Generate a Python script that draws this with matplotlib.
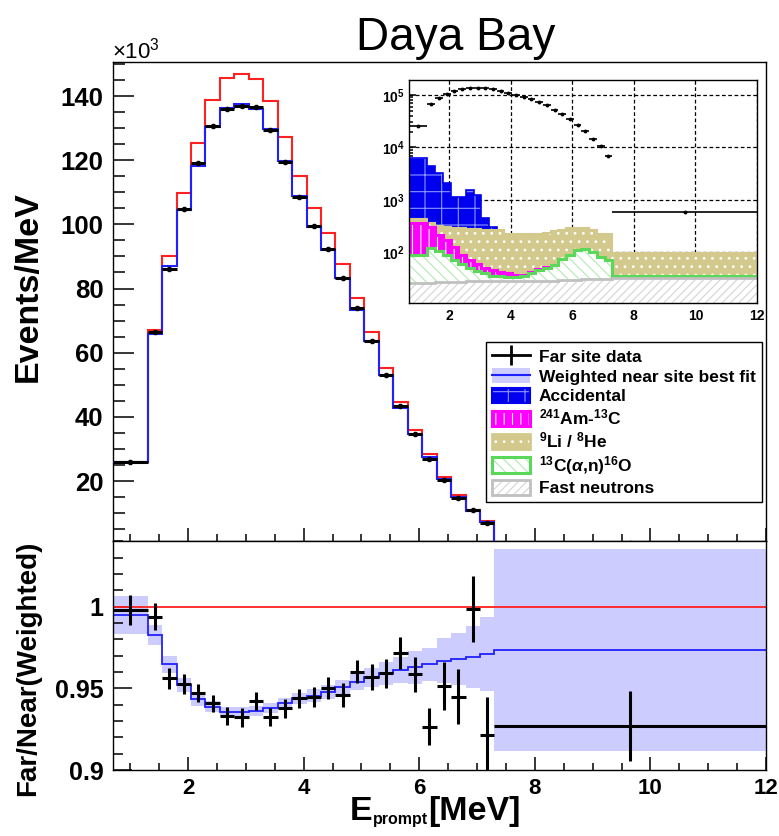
import numpy as np
import matplotlib
matplotlib.use('Agg')
import matplotlib.pyplot as plt
from matplotlib.patches import Patch
from matplotlib.lines import Line2D
from matplotlib.ticker import MultipleLocator, FixedLocator, LogLocator, NullFormatter, FuncFormatter

plt.rcParams['font.family'] = ['Liberation Sans', 'DejaVu Sans']
plt.rcParams['font.weight'] = 'bold'
plt.rcParams['mathtext.fontset'] = 'custom'
plt.rcParams['mathtext.rm'] = 'Liberation Sans'
plt.rcParams['mathtext.it'] = 'Liberation Sans:italic'
plt.rcParams['mathtext.bf'] = 'Liberation Sans:bold'
plt.rcParams['hatch.linewidth'] = 0.8

# ---------------- data ----------------
bin_edges = [0.7, 1.3, 1.55, 1.8, 2.05, 2.3, 2.55, 2.8, 3.05, 3.3, 3.55, 3.8, 4.05,
             4.3, 4.55, 4.8, 5.05, 5.3, 5.55, 5.8, 6.05, 6.3, 6.55, 6.8, 7.05, 7.3, 12.0]

# Events/MeV in units of 10^3
far_data = [26.0, 66.5, 86.2, 104.9, 119.1, 130.7, 135.9, 136.8, 136.7, 129.4, 119.3, 108.5,
            99.4, 92.2, 83.2, 74.0, 63.75, 52.9, 43.5, 34.6, 26.8, 20.4, 14.8, 10.9, 6.9, 0.58]
no_osc_pred = [26.05, 67.0, 90.1, 109.9, 125.3, 138.75, 145.6, 147.0, 145.3, 138.4, 127.1, 115.1,
               105.0, 97.2, 87.7, 76.9, 66.5, 55.2, 44.5, 35.9, 28.4, 21.25, 15.6, 11.0, 7.5, 0.63]
near_fit = [25.9, 65.9, 86.9, 104.6, 118.2, 130.2, 136.2, 137.5, 136.0, 129.8, 119.6, 108.7,
            99.3, 92.1, 83.4, 73.4, 63.6, 53.0, 42.8, 34.6, 27.4, 20.5, 15.1, 10.7, 7.3, 0.61]

# ratio panel
ratio_data = [0.9979, 0.9938, 0.956, 0.9526, 0.947, 0.9408, 0.933, 0.9322, 0.9424, 0.9326,
              0.9377, 0.9439, 0.9448, 0.950, 0.9459, 0.9601, 0.9567, 0.9591, 0.9714, 0.9587,
              0.9265, 0.9514, 0.9448, 0.9985, 0.9214, 0.9271]
ratio_err = [0.0092, 0.0082, 0.0067, 0.0059, 0.0057, 0.0051, 0.0056, 0.0056, 0.0055, 0.0055,
             0.0056, 0.0058, 0.0061, 0.0066, 0.0071, 0.0071, 0.008, 0.0087, 0.0098, 0.0107,
             0.0112, 0.0146, 0.0167, 0.0204, 0.0234, 0.0214]
ratio_fit = [0.9948, 0.9826, 0.9646, 0.952, 0.9432, 0.9387, 0.9357, 0.9353, 0.9363, 0.9377,
             0.9408, 0.9438, 0.9453, 0.9479, 0.9506, 0.954, 0.9567, 0.9591, 0.9612, 0.9628,
             0.9648, 0.9669, 0.9681, 0.9693, 0.971, 0.9734]
ratio_fit_unc = [0.0116, 0.006, 0.005, 0.0045, 0.004, 0.0035, 0.003, 0.003, 0.003, 0.003,
                 0.003, 0.0035, 0.004, 0.0042, 0.0046, 0.005, 0.0058, 0.0071, 0.0081, 0.0099,
                 0.0101, 0.0137, 0.016, 0.019, 0.0225, 0.062]

# inset backgrounds (Events/MeV)
bkg_accidental = [6240, 4450, 3240, 2090, 1160, 1160, 1550, 1260, 450, 300, 270, 150, 90, 60,
                  40, 30, 20, 15, 12, 10, 8, 6, 5, 4, 3, 1]
bkg_amc = [372, 302, 219, 174, 129, 91, 72, 59, 50, 46, 42, 40, 38, 38, 43, 48, 53, 30, 20, 15,
           12, 10, 8, 6, 5, 2]
bkg_lihe = [431, 363, 324, 309, 295, 288, 282, 275, 269, 269, 263, 229, 226, 226, 226, 229, 234,
            251, 263, 288, 288, 288, 269, 226, 226, 98]
bkg_c13 = [90, 120, 105, 90, 72, 59, 50, 44, 40, 36, 35, 34, 34, 36, 41, 46, 50, 58, 74, 90, 110,
           115, 100, 81, 71, 36]
bkg_fastn = [26, 26, 27, 27, 27, 27, 28, 28, 28, 28, 28, 28, 28, 28, 29, 29, 29, 29, 30, 30, 30,
             31, 31, 31, 31, 32]

edges = np.array(bin_edges)
centers = 0.5 * (edges[1:] + edges[:-1])
halfw = 0.5 * (edges[1:] - edges[:-1])

W, H = 779, 836
fig = plt.figure(figsize=(W / 100, H / 100), dpi=100)

def fx(px):
    return px / W

def fy(py):
    return 1 - py / H

L, R = 113, 766
ax = fig.add_axes([fx(L), fy(541), fx(R) - fx(L), fy(62) - fy(541)])
axr = fig.add_axes([fx(L), fy(770), fx(R) - fx(L), fy(541) - fy(770)])
axi = fig.add_axes([fx(409), fy(303), fx(757) - fx(409), fy(80) - fy(303)])

for a in (ax, axr, axi):
    for s in a.spines.values():
        s.set_linewidth(1.0)
    a.tick_params(which='both', direction='in', top=False, right=False, width=1.1)

# ---------------- main panel ----------------
ax.stairs(no_osc_pred, edges, baseline=None, color='#ff2020', lw=1.5, zorder=2)
ax.stairs(near_fit, edges, baseline=None, color='#2020ff', lw=1.5, zorder=3)
ax.errorbar(centers, far_data, xerr=halfw, fmt='o', ms=3, color='black', elinewidth=2.2,
            capsize=0, zorder=4)
ax.set_xlim(0.7, 12)
ax.set_ylim(1.3, 150.6)
ax.xaxis.set_major_locator(MultipleLocator(2))
ax.xaxis.set_minor_locator(MultipleLocator(0.5))
ax.yaxis.set_major_locator(FixedLocator([20, 40, 60, 80, 100, 120, 140]))
ax.yaxis.set_minor_locator(MultipleLocator(5))
ax.yaxis.set_major_formatter(FuncFormatter(lambda v, p: f'{v:.0f}'))
ax.tick_params(axis='x', labelbottom=False)
ax.tick_params(axis='y', which='major', length=15, labelsize=18.5, pad=7)
ax.tick_params(axis='y', which='minor', length=8.5)
ax.tick_params(axis='x', which='major', length=9.5)
ax.tick_params(axis='x', which='minor', length=5)

# ---------------- ratio panel ----------------
rf = np.array(ratio_fit)
ru = np.array(ratio_fit_unc)
axr.stairs(rf + ru, edges, baseline=rf - ru, fill=True, color='#ccccff', lw=0, zorder=1)
axr.stairs(ratio_fit, edges, baseline=None, color='#2020ff', lw=1.3, zorder=2)
axr.axhline(1.0, color='#ff2020', lw=1.3, zorder=2)
axr.errorbar(centers, ratio_data, xerr=halfw, yerr=ratio_err, fmt='none', ecolor='black',
             elinewidth=2.2, capsize=0, zorder=3)
axr.set_xlim(0.7, 12)
axr.set_ylim(0.9, 1.0401)
axr.xaxis.set_major_locator(MultipleLocator(2))
axr.xaxis.set_minor_locator(MultipleLocator(0.5))
axr.yaxis.set_major_locator(FixedLocator([0.9, 0.95, 1.0]))
axr.yaxis.set_minor_locator(MultipleLocator(0.01))
axr.yaxis.set_major_formatter(FuncFormatter(lambda v, p: f'{v:g}'))
axr.tick_params(axis='y', which='major', length=14, labelsize=18, pad=7)
axr.tick_params(axis='y', which='minor', length=7)
axr.tick_params(axis='x', which='major', length=9.5, labelsize=16, pad=6)
axr.tick_params(axis='x', which='minor', length=5)

# ---------------- inset ----------------
axi.set_yscale('log')
axi.set_axisbelow(True)
axi.grid(True, which='major', color='black', ls=(0, (3, 2)), lw=0.9)
blue_c = '#0000ee'
magenta_c = '#ff00ff'
tan_c = '#d4c98c'
green_c = '#5ad85a'
gray_c = '#c0c0c0'
base = 1.0
axi.stairs(bkg_accidental, edges, baseline=base, fill=True, facecolor=blue_c, edgecolor='#8c96ff',
           hatch='+', lw=0, zorder=1)
axi.stairs(bkg_accidental, edges, baseline=None, color=blue_c, lw=1.2, zorder=1.1)
axi.stairs(bkg_lihe, edges, baseline=base, fill=True, facecolor=tan_c, edgecolor='white',
           hatch='..', lw=0, zorder=1.2)
axi.stairs(bkg_lihe, edges, baseline=None, color=tan_c, lw=1.5, zorder=1.3)
axi.stairs(bkg_amc, edges, baseline=base, fill=True, facecolor=magenta_c, edgecolor='white',
           hatch='||', lw=0, zorder=1.4)
axi.stairs(bkg_amc, edges, baseline=None, color=magenta_c, lw=2.2, zorder=1.5)
axi.stairs(bkg_c13, edges, baseline=base, fill=True, facecolor='white', edgecolor='#b4e8b4',
           hatch='\\\\\\', lw=0, zorder=1.6)
axi.stairs(bkg_c13, edges, baseline=None, color=green_c, lw=2.2, zorder=1.7)
axi.stairs(bkg_fastn, edges, baseline=base, fill=True, facecolor='white', edgecolor='#d4d4d4',
           hatch='////', lw=0, zorder=1.8)
axi.stairs(bkg_fastn, edges, baseline=None, color=gray_c, lw=2.0, zorder=1.9)
axi.errorbar(centers, np.array(far_data) * 1000, xerr=halfw, fmt='o', ms=1.8, color='black',
             elinewidth=1.2, capsize=0, zorder=3)
axi.set_xlim(0.7, 12)
axi.set_ylim(10.9, 1.93e5)
axi.xaxis.set_major_locator(MultipleLocator(2))
axi.yaxis.set_major_locator(LogLocator(base=10, numticks=10))
axi.yaxis.set_minor_locator(LogLocator(base=10, subs=np.arange(2, 10), numticks=20))
axi.yaxis.set_minor_formatter(NullFormatter())
axi.tick_params(axis='both', which='major', labelsize=10, length=5)
axi.tick_params(axis='y', which='minor', length=3)
axi.tick_params(axis='x', pad=4)
axi.tick_params(axis='y', pad=3)

# ---------------- legend ----------------
handles = [
    Line2D([], [], color='black', lw=2, marker='|', markersize=15, mew=2),
    (Patch(facecolor='#ccccff', edgecolor='none'), Line2D([], [], color='#2020ff', lw=1.5)),
    (Patch(facecolor=blue_c, edgecolor='#8c96ff', hatch='+', lw=0),
     Patch(fill=False, edgecolor=blue_c, lw=1.5)),
    (Patch(facecolor=magenta_c, edgecolor='white', hatch='||', lw=0),
     Patch(fill=False, edgecolor=magenta_c, lw=2.2)),
    (Patch(facecolor=tan_c, edgecolor='white', hatch='..', lw=0),
     Patch(fill=False, edgecolor=tan_c, lw=2)),
    (Patch(facecolor='white', edgecolor='#b4e8b4', hatch='\\\\\\', lw=0),
     Patch(fill=False, edgecolor=green_c, lw=2.2)),
    (Patch(facecolor='white', edgecolor='#d4d4d4', hatch='////', lw=0),
     Patch(fill=False, edgecolor=gray_c, lw=2)),
]
labels = [
    'Far site data',
    'Weighted near site best fit',
    'Accidental',
    r'$\mathregular{^{241}}$Am-$\mathregular{^{13}}$C',
    r'$\mathregular{^{9}}$Li / $\mathregular{^{8}}$He',
    r'$\mathregular{^{13}}$C($\alpha$,n)$\mathregular{^{16}}$O',
    'Fast neutrons',
]
leg = ax.legend(handles, labels, loc='upper left', bbox_to_anchor=(fx(486), fy(342)),
                bbox_transform=fig.transFigure, borderaxespad=0, frameon=True, fancybox=False,
                edgecolor='black', framealpha=1, borderpad=0.35, labelspacing=0.18,
                handlelength=2.2, handleheight=1.0, handletextpad=0.5,
                prop={'weight': 'bold', 'size': 12.5})
leg.get_frame().set_linewidth(1.0)

# ---------------- texts ----------------
fig.text(fx(456), fy(50), 'Daya Bay', fontsize=33, fontweight='normal', ha='center',
         va='baseline')
fig.text(fx(112), fy(58), r'$\mathregular{\times10^{3}}$', fontsize=16, fontweight='normal',
         ha='left', va='baseline')
fig.text(fx(28), fy(287), 'Events/MeV', rotation=90, fontsize=24.5, fontweight='bold',
         ha='center', va='center')
fig.text(fx(28), fy(668), 'Far/Near(Weighted)', rotation=90, fontsize=20, fontweight='bold',
         ha='center', va='center')

# x label built from pieces (large E, small subscript, large [MeV])
renderer = fig.canvas.get_renderer()
base_y = fy(820)
t1 = fig.text(0, base_y, 'E', fontsize=24.5, fontweight='bold', ha='left', va='baseline')
t2 = fig.text(0, base_y, 'prompt', fontsize=11.5, fontweight='bold', ha='left', va='baseline')
t3 = fig.text(0, base_y, '[MeV]', fontsize=24.5, fontweight='bold', ha='left', va='baseline')
w1 = t1.get_window_extent(renderer).width
w2 = t2.get_window_extent(renderer).width
w3 = t3.get_window_extent(renderer).width
total = w1 + w2 + w3
x0 = 435 - total / 2
t1.set_x(fx(x0))
t2.set_x(fx(x0 + w1))
t2.set_y(fy(824))
t3.set_x(fx(x0 + w1 + w2))

fig.savefig('out.png', dpi=100)
